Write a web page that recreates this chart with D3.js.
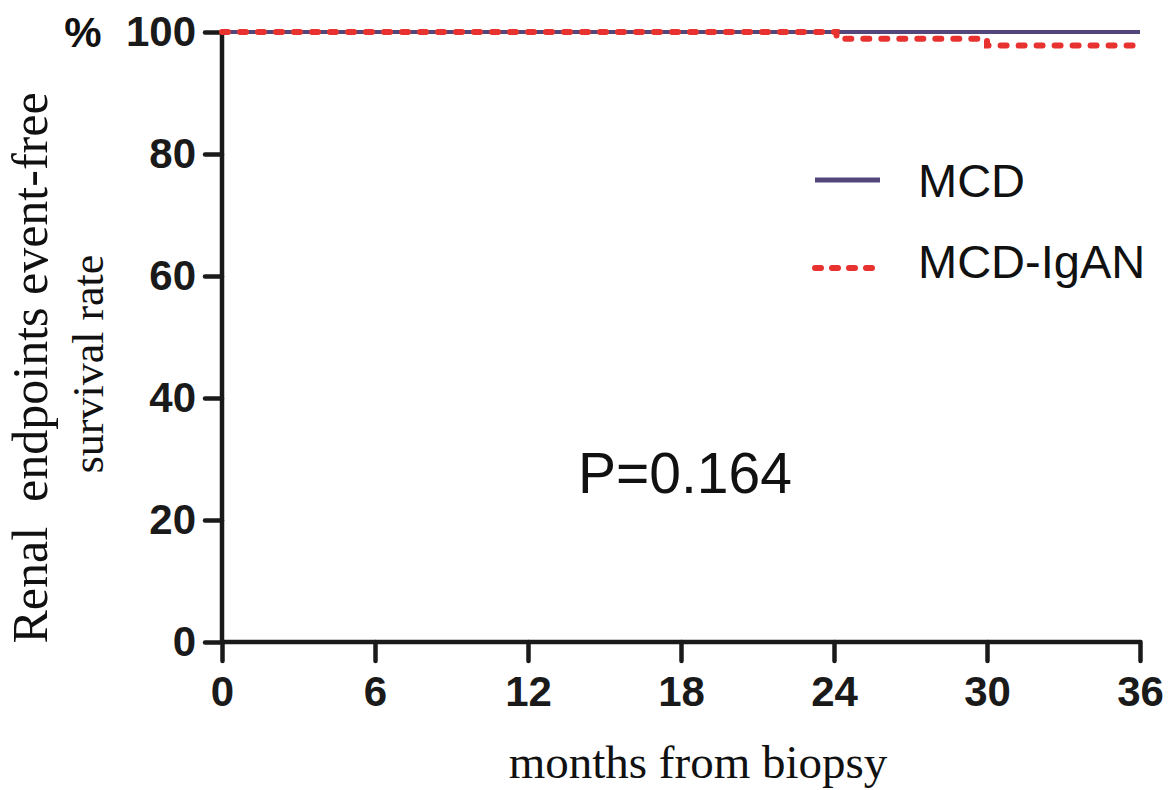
<!DOCTYPE html>
<html>
<head>
<meta charset="utf-8">
<script src="https://cdn.jsdelivr.net/npm/d3@7"></script>
<style>
  body { margin: 0; background: #fff; }
  svg { display: block; }
</style>
</head>
<body>
<div id="chart"></div>
<script>
const xTicks = [0, 6, 12, 18, 24, 30, 36];
const yTicks = [0, 20, 40, 60, 80, 100];

// Kaplan-Meier steps (months, %)
const mcdSteps = [
  {t: 0, s: 100},
  {t: 36, s: 100}
];
const igSteps = [
  {t: 0, s: 100},
  {t: 24.1, s: 98.9},
  {t: 30, s: 97.8},
  {t: 35.8, s: 97.8}
];

const seriesNames = ["MCD", "MCD-IgAN"];
const seriesColors = ["#52467a", "#e8322f"];

const W = 1169, H = 790;
const margin = {left: 222, right: 28, top: 32, bottom: 148};

const svg = d3.select("#chart").append("svg")
  .attr("width", W)
  .attr("height", H);

const x = d3.scaleLinear().domain([0, 36]).range([margin.left, 1140]);
const y = d3.scaleLinear().domain([0, 100]).range([642, margin.top]);

const sans = "Liberation Sans, Arial, sans-serif";
const serif = "Liberation Serif, Times New Roman, serif";

// axes
const xAxis = svg.append("g")
  .attr("transform", `translate(0,${y(0)})`)
  .call(d3.axisBottom(x).tickValues(xTicks).tickSize(19).tickPadding(15).tickSizeOuter(0));
const yAxis = svg.append("g")
  .attr("transform", `translate(${x(0)},0)`)
  .call(d3.axisLeft(y).tickValues(yTicks).tickSize(17).tickPadding(9).tickSizeOuter(0));

[xAxis, yAxis].forEach(g => {
  g.selectAll("path, line")
    .attr("stroke", "#1a1a1a")
    .attr("stroke-width", 4.5)
    .attr("stroke-linecap", "round");
  g.selectAll("text")
    .attr("fill", "#1a1a1a")
    .style("font-family", sans)
    .style("font-weight", "bold")
    .style("font-size", "42px");
});
xAxis.select(".domain").attr("d", `M${x(0)},0H${x(36)}`);
yAxis.select(".domain").attr("d", `M0,${y(0)}V${y(100)}`);

// curves
const line = d3.line()
  .x(d => x(d.t))
  .y(d => y(d.s))
  .curve(d3.curveStepAfter);

svg.append("path")
  .datum(mcdSteps)
  .attr("d", line)
  .attr("fill", "none")
  .attr("stroke", seriesColors[0])
  .attr("stroke-width", 4);

svg.append("path")
  .datum(igSteps)
  .attr("d", line)
  .attr("fill", "none")
  .attr("stroke", seriesColors[1])
  .attr("stroke-width", 6)
  .attr("stroke-dasharray", "6 12")
  .attr("stroke-linecap", "round");

// legend
const legendY = [180, 268];
const legendBase = [197, 278];
seriesNames.forEach((name, i) => {
  const l = svg.append("line")
    .attr("x1", 815).attr("x2", 880)
    .attr("y1", legendY[i]).attr("y2", legendY[i])
    .attr("stroke", seriesColors[i])
    .attr("stroke-width", 5);
  if (i === 1) l.attr("x1", 815).attr("x2", 876).attr("stroke-width", 6)
    .attr("stroke-dasharray", "6 11").attr("stroke-linecap", "round");
  svg.append("text")
    .attr("x", 918).attr("y", legendBase[i])
    .attr("fill", "#111")
    .style("font-family", sans)
    .style("font-size", "47px")
    .text(name);
});

// P value
svg.append("text")
  .attr("x", 578).attr("y", 493)
  .attr("fill", "#111")
  .style("font-family", sans)
  .style("font-size", "57px")
  .text("P=0.164");

// % label
svg.append("text")
  .attr("x", 83).attr("y", y(100))
  .attr("dy", "0.36em")
  .attr("text-anchor", "middle")
  .attr("fill", "#111")
  .style("font-family", sans)
  .style("font-weight", "bold")
  .style("font-size", "42px")
  .text("%");

// axis titles
svg.append("text")
  .attr("transform", "translate(47,368) rotate(-90)")
  .attr("text-anchor", "middle")
  .attr("fill", "#111")
  .style("white-space", "pre")
  .style("font-family", serif)
  .style("font-size", "50px")
  .text("Renal  endpoints event-free");
svg.append("text")
  .attr("transform", "translate(103,364) rotate(-90)")
  .attr("text-anchor", "middle")
  .attr("fill", "#111")
  .style("font-family", serif)
  .style("font-size", "44px")
  .text("survival rate");

svg.append("text")
  .attr("x", 698).attr("y", 778)
  .attr("text-anchor", "middle")
  .attr("fill", "#111")
  .style("font-family", serif)
  .style("font-size", "47px")
  .text("months from biopsy");
</script>
</body>
</html>
